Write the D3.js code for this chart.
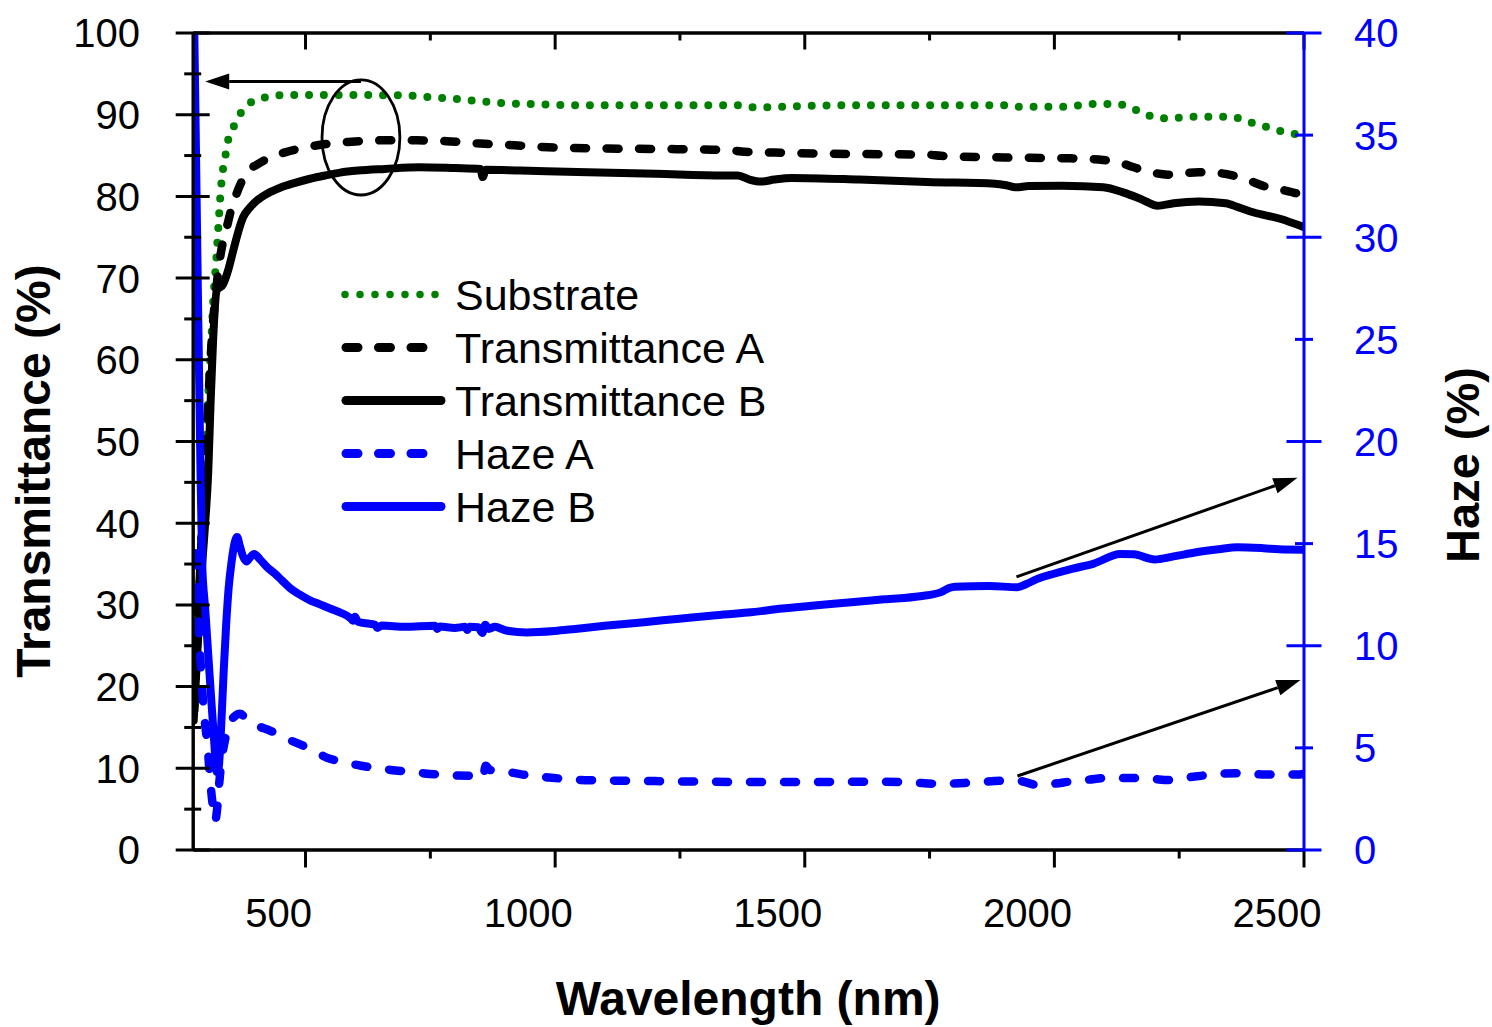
<!DOCTYPE html>
<html>
<head>
<meta charset="utf-8">
<script src="https://cdn.jsdelivr.net/npm/d3@7"></script>
<style>
  html, body { margin: 0; padding: 0; background: #fff; }
  svg { display: block; }
  text { font-family: "Liberation Sans", Arial, Helvetica, sans-serif; }
</style>
</head>
<body>
<svg id="chart" width="1492" height="1027"></svg>
<script>
// ---- data: [wavelength (nm), value] ----
const substrate = [
  [278, 20], [282, 25], [287, 32], [292, 38.5], [296, 43.7], [300, 48], [304, 53.4], [308, 57.8],
  [313, 63.2], [316, 67], [322, 72], [326, 75.8], [330, 79.7], [334, 82.5], [340, 84.7], [345, 86.6],
  [352, 87.8], [358, 88.6], [365, 89.5], [372, 90.2], [382, 90.9], [393, 91.5], [405, 91.8], [416, 92.0],
  [444, 92.3], [500, 92.35], [600, 92.35], [700, 92.3], [743, 92.1], [797, 91.9], [858, 91.55],
  [900, 91.35], [946, 91.25], [1000, 91.15], [1067, 91.1], [1200, 91.1], [1366, 91.1], [1394, 90.85],
  [1420, 90.85], [1475, 90.96], [1520, 91.05], [1610, 91.1], [1750, 91.1], [1900, 91.1], [1923, 90.9],
  [2003, 90.9], [2040, 91.0], [2071, 91.25], [2127, 91.25], [2153, 90.8], [2181, 90.1], [2208, 89.5],
  [2236, 89.5], [2270, 89.7], [2357, 89.7], [2383, 89.2], [2417, 88.6], [2444, 88.1], [2479, 87.6],
  [2500, 87.4]
];

const transA = [
  [278, 17], [285, 27], [292, 37], [300, 47], [308, 57], [315, 64], [322, 68.5], [330, 72.5],
  [336, 74.5], [343, 76.1], [352, 78.3], [363, 80.3], [375, 82], [390, 83.3], [403, 83.8], [430, 84.7],
  [458, 85.3], [490, 85.8], [525, 86.2], [586, 86.6], [654, 86.8], [722, 86.8], [783, 86.7], [851, 86.4],
  [919, 86.2], [987, 85.95], [1100, 85.8], [1200, 85.75], [1316, 85.65], [1350, 85.6], [1380, 85.4],
  [1441, 85.3], [1517, 85.2], [1650, 85.1], [1747, 85.05], [1774, 84.9], [1900, 84.7], [2031, 84.6],
  [2099, 84.4], [2130, 84.1], [2160, 83.5], [2195, 82.9], [2228, 82.6], [2290, 82.9], [2330, 82.8],
  [2358, 82.5], [2390, 81.9], [2426, 81.1], [2460, 80.7], [2487, 80.3], [2500, 80.1]
];

const transB = [
  [277, 15.8], [285, 25], [292, 33], [300, 40], [306, 46], [311, 55], [316, 62.5], [323, 68.4],
  [336, 69.2], [346, 70.9], [355, 73], [363, 74.9], [376, 77.4], [390, 78.6], [403, 79.4], [425, 80.3],
  [450, 81.0], [480, 81.6], [510, 82.1], [540, 82.5], [570, 82.85], [606, 83.1], [660, 83.3], [729, 83.5],
  [800, 83.4], [851, 83.3], [856, 82.3], [862, 83.2], [932, 83.1], [1067, 82.9], [1203, 82.7],
  [1340, 82.5], [1367, 82.5], [1390, 82.0], [1414, 81.75], [1440, 82.0], [1475, 82.2], [1610, 82.0],
  [1746, 81.7], [1882, 81.5], [1905, 81.3], [1923, 81.05], [1950, 81.2], [2017, 81.25], [2099, 81.05],
  [2140, 80.4], [2175, 79.6], [2208, 78.8], [2240, 79.1], [2290, 79.3], [2344, 79.1], [2370, 78.6],
  [2399, 78.0], [2453, 77.2], [2500, 76.2]
];

const hazeA = [
  [280, 14.5], [284, 12.5], [288, 10.5], [292, 8.6], [298, 6.6], [305, 5.0], [310, 3.4], [315, 2.2],
  [320, 1.4], [324, 2.0], [328, 3.2], [333, 4.4], [340, 5.4], [347, 6.1], [358, 6.5], [370, 6.65],
  [385, 6.3], [400, 6.1], [432, 5.8], [460, 5.45], [495, 5.1], [520, 4.8], [543, 4.5], [575, 4.3],
  [612, 4.1], [650, 3.97], [681, 3.87], [720, 3.78], [750, 3.7], [806, 3.62], [850, 3.6], [856, 3.5],
  [862, 4.1], [870, 3.9], [917, 3.75], [950, 3.62], [986, 3.53], [1041, 3.42], [1100, 3.38],
  [1200, 3.35], [1300, 3.32], [1400, 3.3], [1500, 3.3], [1600, 3.32], [1700, 3.3], [1774, 3.21],
  [1843, 3.29], [1905, 3.37], [1930, 3.36], [1967, 3.16], [2000, 3.22], [2036, 3.34], [2070, 3.42],
  [2106, 3.5], [2168, 3.5], [2200, 3.45], [2230, 3.4], [2260, 3.5], [2299, 3.62], [2330, 3.7],
  [2368, 3.73], [2424, 3.67], [2486, 3.67], [2500, 3.7]
];

const hazeB = [
  [277, 42], [280, 37], [285, 28], [290, 19.5], [294, 14], [300, 11.8], [306, 9.6], [312, 7.4],
  [318, 5.3], [323, 3.8], [327, 4.0], [332, 6.0], [337, 8.7], [342, 11], [347, 12.8], [353, 14.1],
  [358, 14.9], [364, 15.3], [369, 14.9], [375, 14.4], [383, 14.1], [390, 14.3], [398, 14.47],
  [410, 14.2], [425, 13.8], [440, 13.5], [454, 13.17], [470, 12.8], [488, 12.5], [510, 12.2],
  [530, 12.0], [550, 11.8], [571, 11.6], [590, 11.35], [596, 11.2], [600, 11.4], [606, 11.15],
  [630, 11.05], [640, 11.0], [645, 10.85], [654, 10.97], [700, 10.9], [760, 10.95], [765, 10.8],
  [770, 10.92], [800, 10.85], [820, 10.9], [825, 10.75], [830, 10.9], [847, 10.88], [855, 10.6],
  [861, 11.0], [868, 10.8], [880, 10.9], [903, 10.72], [944, 10.63], [1000, 10.7], [1041, 10.8],
  [1100, 10.95], [1179, 11.13], [1250, 11.3], [1318, 11.46], [1387, 11.6], [1456, 11.8], [1520, 11.95],
  [1594, 12.1], [1660, 12.25], [1732, 12.4], [1774, 12.6], [1790, 12.8], [1802, 12.87], [1871, 12.9],
  [1927, 12.84], [1945, 13.0], [1967, 13.25], [2000, 13.5], [2036, 13.74], [2080, 14.0], [2133, 14.47],
  [2160, 14.45], [2202, 14.2], [2240, 14.35], [2285, 14.55], [2330, 14.7], [2368, 14.8], [2420, 14.75],
  [2451, 14.7], [2500, 14.68]
];

const xTicks = [500, 1000, 1500, 2000, 2500];
const xMinorTicks = [750, 1250, 1750, 2250];
const leftTicks = [0, 10, 20, 30, 40, 50, 60, 70, 80, 90, 100];
const leftMinorTicks = [5, 15, 25, 35, 45, 55, 65, 75, 85, 95];
const rightTicks = [0, 5, 10, 15, 20, 25, 30, 35, 40];
const rightMajorTicks = [0, 10, 20, 30, 40];

const seriesNames = ["Substrate", "Transmittance A", "Transmittance B", "Haze A", "Haze B"];

// annotation anchors in data units
const circleMark = { wl: 612, t: 87.15, wlHalf: 78, tHalf: 7.04 };
const leftArrow = { from: [612, 94.0], to: [300, 94.0] };
const hazeArrows = [
  { from: [1925, 13.35], to: [2488, 18.2] },
  { from: [1927, 3.6], to: [2494, 8.3] }
];

// ---- layout ----
const svg = d3.select("#chart");
const L = 192.7, R = 1303.5, T = 32.5, B = 849.5;
const BLUE = "#0000ff", GREEN = "#008000";

const x = d3.scaleLinear().domain([275, 2500]).range([L, R]);
const yL = d3.scaleLinear().domain([0, 100]).range([B, T]);
const yR = d3.scaleLinear().domain([0, 40]).range([B, T]);

svg.append("rect").attr("width", 1492).attr("height", 1027).attr("fill", "#fff");

svg.append("defs").append("clipPath").attr("id", "plotClip")
  .append("rect").attr("x", L).attr("y", T).attr("width", R - L).attr("height", B - T);

const lineL = d3.line().x(d => x(d[0])).y(d => yL(d[1])).curve(d3.curveMonotoneX);
const lineR = d3.line().x(d => x(d[0])).y(d => yR(d[1])).curve(d3.curveMonotoneX);

const styles = [
  { data: substrate, gen: lineL, color: GREEN, width: 8, dash: "0 14.8" },
  { data: transA, gen: lineL, color: "#000", width: 8.5, dash: "12 20.5" },
  { data: transB, gen: lineL, color: "#000", width: 8, dash: null },
  { data: hazeA, gen: lineR, color: BLUE, width: 8.5, dash: "12 22" },
  { data: hazeB, gen: lineR, color: BLUE, width: 8, dash: null }
];

const plot = svg.append("g").attr("clip-path", "url(#plotClip)");
styles.forEach(s => {
  plot.append("path")
    .attr("d", s.gen(s.data))
    .attr("fill", "none")
    .attr("stroke", s.color)
    .attr("stroke-width", s.width)
    .attr("stroke-linecap", "round")
    .attr("stroke-linejoin", "round")
    .attr("stroke-dasharray", s.dash);
});

// ---- annotations: circled group with arrow to the left axis ----
const ann = svg.append("g").attr("stroke", "#000").attr("fill", "none");
const cx = x(circleMark.wl), cy = yL(circleMark.t);
ann.append("ellipse")
  .attr("cx", cx).attr("cy", cy)
  .attr("rx", x(circleMark.wl + circleMark.wlHalf) - cx)
  .attr("ry", yL(circleMark.t - circleMark.tHalf) - cy)
  .attr("stroke-width", 2.8);

function arrow(x1, y1, x2, y2) {
  const ang = Math.atan2(y2 - y1, x2 - x1);
  const len = 24, hw = 8;
  const bx = x2 - len * Math.cos(ang), by = y2 - len * Math.sin(ang);
  ann.append("line").attr("x1", x1).attr("y1", y1).attr("x2", bx).attr("y2", by)
    .attr("stroke-width", 3);
  const px = -Math.sin(ang) * hw, py = Math.cos(ang) * hw;
  ann.append("path")
    .attr("d", `M${x2},${y2}L${bx + px},${by + py}L${bx - px},${by - py}Z`)
    .attr("fill", "#000").attr("stroke", "none");
}
arrow(x(leftArrow.from[0]), yL(leftArrow.from[1]), x(leftArrow.to[0]), yL(leftArrow.to[1]));
hazeArrows.forEach(a => arrow(x(a.from[0]), yR(a.from[1]), x(a.to[0]), yR(a.to[1])));

// ---- axes ----
function styleAxis(g, color) {
  g.select(".domain").attr("stroke", color).attr("stroke-width", 3);
  g.selectAll(".tick line").attr("stroke", color).attr("stroke-width", 3);
}

// bottom
const xAxisMinor = svg.append("g").attr("transform", `translate(0,${B})`)
  .call(d3.axisBottom(x).tickValues(xMinorTicks).tickSize(9).tickSizeOuter(0).tickFormat(""));
styleAxis(xAxisMinor, "#000");
const xAxis = svg.append("g").attr("transform", `translate(0,${B})`)
  .call(d3.axisBottom(x).tickValues(xTicks).tickSize(18).tickSizeOuter(0).tickFormat(d3.format("d")));
styleAxis(xAxis, "#000");
xAxis.selectAll(".tick text")
  .attr("y", 0).attr("dy", null).attr("dx", -27)
  .attr("transform", "translate(0,77.5)")
  .attr("font-size", 40).attr("fill", "#000");

// top frame with inward ticks
const topMinor = svg.append("g").attr("transform", `translate(0,${T})`)
  .call(d3.axisBottom(x).tickValues(xMinorTicks).tickSize(8).tickSizeOuter(0).tickFormat(""));
styleAxis(topMinor, "#000");
const topMajor = svg.append("g").attr("transform", `translate(0,${T})`)
  .call(d3.axisBottom(x).tickValues(xTicks).tickSize(17).tickSizeOuter(0).tickFormat(""));
styleAxis(topMajor, "#000");

// left
const leftMinor = svg.append("g").attr("transform", `translate(${L},0)`)
  .call(d3.axisLeft(yL).tickValues(leftMinorTicks).tickSizeOuter(0).tickFormat(""));
styleAxis(leftMinor, "#000");
leftMinor.selectAll(".tick line").attr("x1", -8.5).attr("x2", 8.5);
const leftAxis = svg.append("g").attr("transform", `translate(${L},0)`)
  .call(d3.axisLeft(yL).tickValues(leftTicks).tickSizeOuter(0).tickFormat(d3.format("d")));
styleAxis(leftAxis, "#000");
leftAxis.selectAll(".tick line").attr("x1", -17).attr("x2", 17);
leftAxis.selectAll(".tick text")
  .attr("x", -52.7).attr("dy", "0.36em")
  .attr("font-size", 40).attr("fill", "#000").attr("text-anchor", "end");

// right (haze)
const rightAxis = svg.append("g").attr("transform", `translate(${R},0)`)
  .call(d3.axisRight(yR).tickValues(rightTicks).tickSizeOuter(0).tickFormat(d3.format("d")));
styleAxis(rightAxis, BLUE);
rightAxis.selectAll(".tick line")
  .attr("x1", d => rightMajorTicks.includes(d) ? -17 : -8.5)
  .attr("x2", d => rightMajorTicks.includes(d) ? 18 : 9.5);
rightAxis.selectAll(".tick text")
  .attr("x", 50.5).attr("dy", "0.36em")
  .attr("font-size", 40).attr("fill", BLUE).attr("text-anchor", "start");

// ---- axis titles ----
svg.append("text")
  .attr("transform", `translate(${(L + R) / 2},1015)`)
  .attr("text-anchor", "middle").attr("font-size", 48).attr("font-weight", "bold")
  .text("Wavelength (nm)");
svg.append("text")
  .attr("transform", "translate(50,471) rotate(-90)")
  .attr("text-anchor", "middle").attr("font-size", 48).attr("font-weight", "bold")
  .text("Transmittance (%)");
svg.append("text")
  .attr("transform", "translate(1479,465) rotate(-90)")
  .attr("text-anchor", "middle").attr("font-size", 47).attr("font-weight", "bold")
  .text("Haze (%)");

// ---- legend ----
const legend = svg.append("g");
seriesNames.forEach((name, i) => {
  const s = styles[i];
  const ly = 294.5 + i * 53;
  let x1 = 346, x2 = 441;
  if (s.dash === "0 14.8") { x1 = 345; x2 = 436; }
  else if (s.dash) { x1 = 346; x2 = 423; }
  legend.append("line")
    .attr("x1", x1).attr("x2", x2).attr("y1", ly).attr("y2", ly)
    .attr("stroke", s.color).attr("stroke-width", s.dash === "0 14.8" ? 7.5 : 9)
    .attr("stroke-linecap", "round")
    .attr("stroke-dasharray", s.dash === "0 14.8" ? "0 15" : (s.dash ? "12 20.5" : null));
  legend.append("text")
    .attr("x", 455).attr("y", ly + 15)
    .attr("font-size", 43).attr("fill", "#000")
    .text(name);
});
</script>
</body>
</html>
